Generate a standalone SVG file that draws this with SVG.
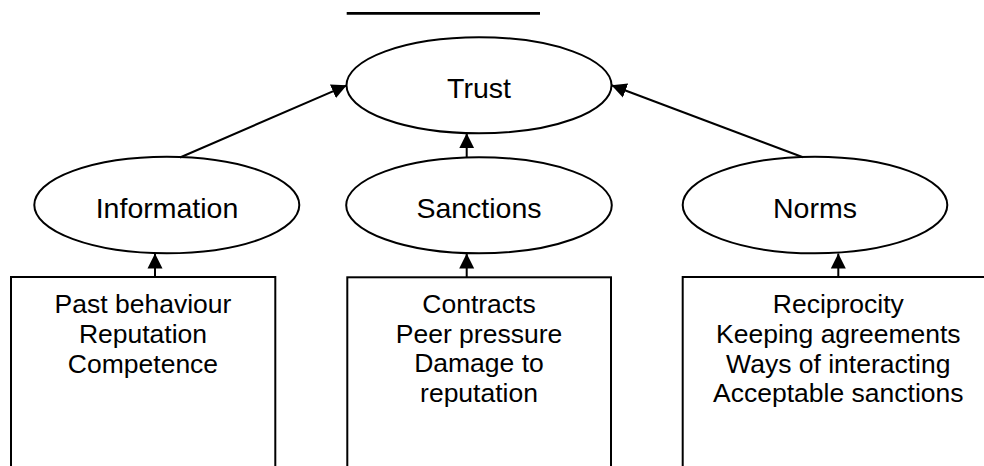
<svg xmlns="http://www.w3.org/2000/svg" width="984" height="466" viewBox="0 0 984 466">
<style>
.node{fill:#fff;stroke:#000;stroke-width:2}
.lbl{font-family:"Liberation Sans",Arial,sans-serif;font-size:28.5px;fill:#000;text-anchor:middle}
.box{font-family:"Liberation Sans",Arial,sans-serif;font-size:26.5px;fill:#000;text-anchor:middle}
.conn{stroke:#000;stroke-width:2;fill:none;marker-end:url(#arr)}
</style>
<defs>
<marker id="arr" markerUnits="userSpaceOnUse" markerWidth="16" markerHeight="16" viewBox="0 0 16 16" refX="15" refY="8" orient="auto">
<path d="M0,0.5 L15,8 L0,15.5 z" fill="#000"/>
</marker>
</defs>
<rect width="984" height="466" fill="#fff"/>
<line x1="346.7" y1="13.3" x2="540" y2="13.3" stroke="#000" stroke-width="2.7"/>
<g id="trust">
<ellipse class="node" cx="479" cy="85.3" rx="132.5" ry="48"/>
<text class="lbl" x="479" y="98.3">Trust</text>
</g>
<g id="information">
<ellipse class="node" cx="166.8" cy="205" rx="132.5" ry="48.3"/>
<text class="lbl" x="167" y="218.3">Information</text>
</g>
<g id="sanctions">
<ellipse class="node" cx="479" cy="205.3" rx="132.8" ry="48"/>
<text class="lbl" x="479" y="218.3">Sanctions</text>
</g>
<g id="norms">
<ellipse class="node" cx="815" cy="205" rx="132.3" ry="48.3"/>
<text class="lbl" x="815" y="218.3">Norms</text>
</g>
<g id="box-information">
<rect class="node" x="11" y="277" width="264.3" height="210"/>
<text class="box" x="143" y="312.7">Past behaviour</text>
<text class="box" x="143" y="343">Reputation</text>
<text class="box" x="143" y="372.7">Competence</text>
</g>
<g id="box-sanctions">
<rect class="node" x="347.3" y="277.3" width="263.7" height="210"/>
<text class="box" x="479" y="312.7">Contracts</text>
<text class="box" x="479" y="342.5">Peer pressure</text>
<text class="box" x="479" y="372.3">Damage to</text>
<text class="box" x="479" y="402.3">reputation</text>
</g>
<g id="box-norms">
<rect class="node" x="682.7" y="277" width="330" height="210"/>
<text class="box" x="838.3" y="313.3">Reciprocity</text>
<text class="box" x="838.3" y="343.3">Keeping agreements</text>
<text class="box" x="838.3" y="372.7">Ways of interacting</text>
<text class="box" x="838.3" y="402.3">Acceptable sanctions</text>
</g>
<g id="connectors">
<line class="conn" x1="180" y1="157.5" x2="346.7" y2="85.3"/>
<line class="conn" x1="466.7" y1="157.3" x2="466.7" y2="133.3"/>
<line class="conn" x1="803" y1="157.3" x2="611.5" y2="85.3"/>
<line class="conn" x1="155" y1="277" x2="155" y2="253.5"/>
<line class="conn" x1="466.7" y1="277.3" x2="466.7" y2="253.5"/>
<line class="conn" x1="838.3" y1="277" x2="838.3" y2="253.5"/>
</g>
</svg>
